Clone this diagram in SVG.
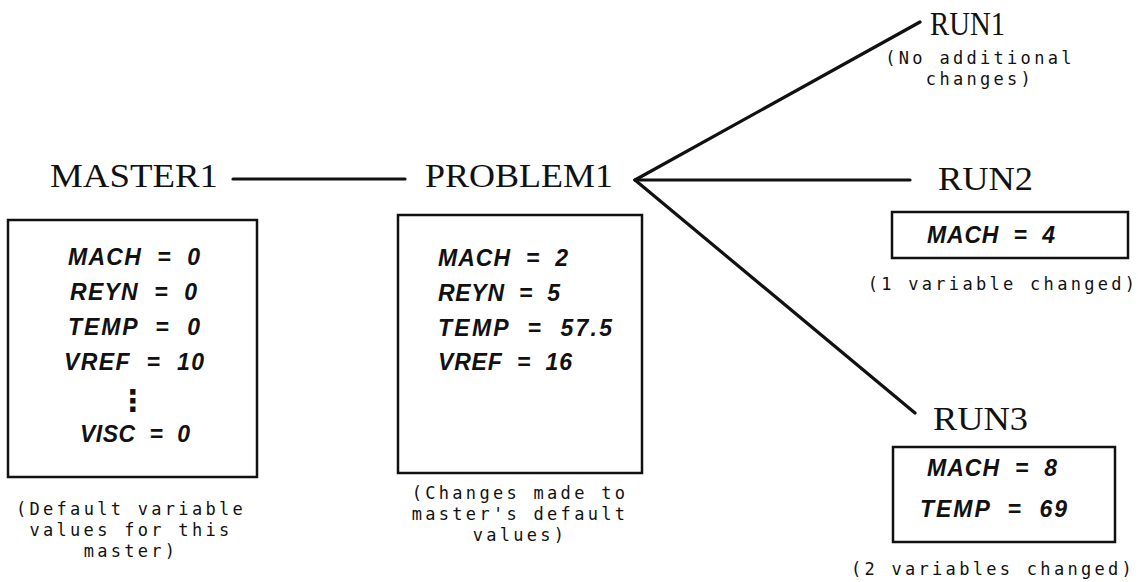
<svg xmlns="http://www.w3.org/2000/svg" width="1138" height="582" viewBox="0 0 1138 582">
<style>
.big{font-family:"Liberation Serif",serif;font-size:34px;fill:#111}
.var{font-family:"Liberation Sans",sans-serif;font-size:23px;font-weight:bold;font-style:italic;fill:#111;white-space:pre}
.dots{font-family:"DejaVu Sans",sans-serif;font-size:30px;font-weight:bold;fill:#111;text-anchor:middle}
.cap{font-family:"DejaVu Sans Mono","Liberation Mono",monospace;font-size:17px;letter-spacing:3.3px;fill:#111;text-anchor:middle}
.box{fill:none;stroke:#111;stroke-width:2.5}
.conn{stroke:#111;stroke-width:3.2;fill:none;stroke-linecap:round}
</style>
<rect width="1138" height="582" fill="#fff"/>
<g id="connectors">
<line class="conn" x1="233" y1="179" x2="405" y2="179"/>
<line class="conn" x1="635" y1="180" x2="920" y2="22"/>
<line class="conn" x1="635" y1="180" x2="910" y2="180"/>
<line class="conn" x1="635" y1="180" x2="915" y2="413"/>
</g>
<g id="master1">
<text class="big" x="50" y="187" textLength="168" lengthAdjust="spacingAndGlyphs">MASTER1</text>
<rect class="box" x="8" y="220" width="249" height="257"/>
<text class="var" x="68" y="265" textLength="132" xml:space="preserve">MACH  =  0</text>
<text class="var" x="70" y="300" textLength="127" xml:space="preserve">REYN  =  0</text>
<text class="var" x="68" y="335" textLength="132" xml:space="preserve">TEMP  =  0</text>
<text class="var" x="64" y="370" textLength="140" xml:space="preserve">VREF  =  10</text>
<text class="dots" x="133" y="411">⋮</text>
<text class="var" x="80" y="442" textLength="110" xml:space="preserve">VISC  =  0</text>
<text class="cap" x="131" y="515">(Default variable</text>
<text class="cap" x="131" y="536">values for this</text>
<text class="cap" x="131" y="557">master)</text>
</g>
<g id="problem1">
<text class="big" x="425" y="187" textLength="188" lengthAdjust="spacingAndGlyphs">PROBLEM1</text>
<rect class="box" x="398" y="215" width="244" height="258"/>
<text class="var" x="438" y="266" textLength="130" xml:space="preserve">MACH  =  2</text>
<text class="var" x="438" y="301" textLength="122" xml:space="preserve">REYN  =  5</text>
<text class="var" x="438" y="336" textLength="174" xml:space="preserve">TEMP  =  57.5</text>
<text class="var" x="438" y="370" textLength="134" xml:space="preserve">VREF  =  16</text>
<text class="cap" x="520" y="499">(Changes made to</text>
<text class="cap" x="520" y="520">master's default</text>
<text class="cap" x="520" y="541">values)</text>
</g>
<g id="run1">
<text class="big" x="930" y="35" textLength="75" lengthAdjust="spacingAndGlyphs">RUN1</text>
<text class="cap" x="980" y="64">(No additional</text>
<text class="cap" x="980" y="85">changes)</text>
</g>
<g id="run2">
<text class="big" x="938" y="190" textLength="95" lengthAdjust="spacingAndGlyphs">RUN2</text>
<rect class="box" x="892" y="212" width="236" height="46"/>
<text class="var" x="927" y="243" textLength="128" xml:space="preserve">MACH  =  4</text>
<text class="cap" x="1003" y="290">(1 variable changed)</text>
</g>
<g id="run3">
<text class="big" x="933" y="430" textLength="95" lengthAdjust="spacingAndGlyphs">RUN3</text>
<rect class="box" x="893" y="447" width="222" height="95"/>
<text class="var" x="927" y="476" textLength="130" xml:space="preserve">MACH  =  8</text>
<text class="var" x="920" y="517" textLength="147" xml:space="preserve">TEMP  =  69</text>
<text class="cap" x="993" y="575">(2 variables changed)</text>
</g>
</svg>
